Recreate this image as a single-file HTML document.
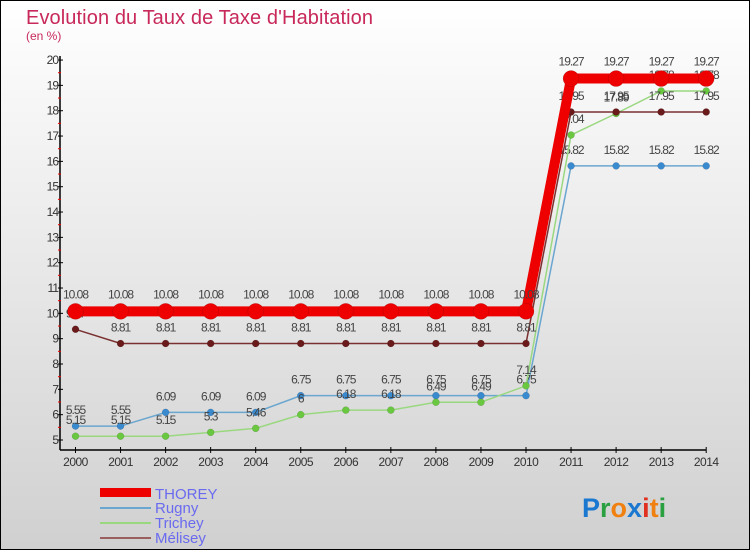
<!DOCTYPE html>
<html><head><meta charset="utf-8"><style>
body{margin:0}
svg{display:block;font-family:"Liberation Sans",sans-serif}
</style></head><body>
<svg id="c" width="750" height="550" viewBox="0 0 750 550">
<defs><linearGradient id="bg" x1="0" y1="0" x2="0" y2="1"><stop offset="0" stop-color="#ffffff"/><stop offset="1" stop-color="#d0d0d0"/></linearGradient></defs>
<rect x="0.5" y="0.5" width="749" height="549" fill="url(#bg)" stroke="#000"/>
<text x="26" y="24" font-size="20" fill="#c8285a" textLength="347">Evolution du Taux de Taxe d'Habitation</text>
<text x="26" y="40" font-size="12" fill="#c8285a">(en %)</text>
<g id="axes"></g>
<g id="series"></g>
<g>
<rect x="100" y="488" width="51" height="9" fill="#e00"/>
<text x="155" y="499" font-size="15" fill="#6a6af0">THOREY</text>
<line x1="100" y1="508" x2="151" y2="508" stroke="#6aa6d0" stroke-width="2"/>
<text x="155" y="513" font-size="15" fill="#6a6af0">Rugny</text>
<line x1="100" y1="523" x2="151" y2="523" stroke="#9ad880" stroke-width="2"/>
<text x="155" y="528" font-size="15" fill="#6a6af0">Trichey</text>
<line x1="100" y1="538" x2="151" y2="538" stroke="#9a6060" stroke-width="2"/>
<text x="155" y="543" font-size="15" fill="#6a6af0">Mélisey</text>
</g>
<text x="582" y="517" font-size="27" font-weight="bold"><tspan fill="#1a78d0">P</tspan><tspan fill="#2aa040">r</tspan><tspan fill="#f08010">o</tspan><tspan fill="#1a78d0">x</tspan><tspan fill="#e03020">i</tspan><tspan fill="#f08010">t</tspan><tspan fill="#2aa040">i</tspan></text>
</svg>
<script>
const years=[2000,2001,2002,2003,2004,2005,2006,2007,2008,2009,2010,2011,2012,2013,2014];
const thorey=[10.08,10.08,10.08,10.08,10.08,10.08,10.08,10.08,10.08,10.08,10.08,19.27,19.27,19.27,19.27];
const rugny=[5.55,5.55,6.09,6.09,6.09,6.75,6.75,6.75,6.75,6.75,6.75,15.82,15.82,15.82,15.82];
const trichey=[5.15,5.15,5.15,5.3,5.46,6,6.18,6.18,6.49,6.49,7.14,17.04,17.89,18.78,18.78];
const melisey=[9.37,8.81,8.81,8.81,8.81,8.81,8.81,8.81,8.81,8.81,8.81,17.95,17.95,17.95,17.95];
const yTicks=[5,6,7,8,9,10,11,12,13,14,15,16,17,18,19,20];
const NS='http://www.w3.org/2000/svg';
const X=i=>75.5+i*45.05;
const Y=v=>440-(v-5)*25.33;
function mk(tag,attrs,parent,txt){const e=document.createElementNS(NS,tag);for(const k in attrs)e.setAttribute(k,attrs[k]);if(txt!==undefined)e.textContent=txt;parent.appendChild(e);return e;}
const ax=document.getElementById('axes');
let e=mk('line',{x1:60,y1:Y(20)-4,x2:60,y2:450,stroke:'#000','stroke-width':1.5},ax);


e=mk('line',{x1:60,y1:450,x2:X(14),y2:450,stroke:'#000','stroke-width':1.5},ax);


yTicks.forEach(v=>{
 mk('line',{x1:58,y1:Y(v),x2:63,y2:Y(v),stroke:'#000'},ax);
 if(v<20)mk('line',{x1:58,y1:Y(v+0.5),x2:61,y2:Y(v+0.5),stroke:'#e00'},ax);
 const t=mk('text',{x:58,y:Y(v)+4,'font-size':12,fill:'#333','text-anchor':'end','letter-spacing':'-1'},ax,String(v));
 
 
});
years.forEach((y,i)=>{
 mk('line',{x1:X(i),y1:447,x2:X(i),y2:453,stroke:'#000'},ax);
 const t=mk('text',{x:X(i),y:466,'font-size':12,fill:'#333','text-anchor':'middle','letter-spacing':'-0.5'},ax,String(y));
 
 
});
const sg=document.getElementById('series');
function draw(name,vals,line,dot,lw,r,dy){
 const g=mk('g',{},sg);
 
 
 const pl=mk('polyline',{points:vals.map((v,i)=>X(i)+','+Y(v)).join(' '),fill:'none',stroke:line,'stroke-width':lw},g);
 
 
 vals.forEach((v,i)=>{
  const c=mk('circle',{cx:X(i),cy:Y(v),r:r,fill:dot,stroke:'rgba(0,0,0,0.2)','stroke-width':0.5},g);
  
  
  const t=mk('text',{x:X(i),y:Y(v)+dy,'font-size':12,fill:'#444','text-anchor':'middle','letter-spacing':'-1'},g,String(v));
  
  
 });
}
draw('rugny',rugny,'#6aa6d0','#3a8ad0',1.5,3.5,-12);
draw('trichey',trichey,'#9ad880','#6ac840',1.5,3.5,-12);
draw('melisey',melisey,'#7a3030','#6a1a1a',1.5,3.5,-12);
draw('thorey',thorey,'#ee0000','#ee0000',10,8,-13);
</script>
</body></html>
